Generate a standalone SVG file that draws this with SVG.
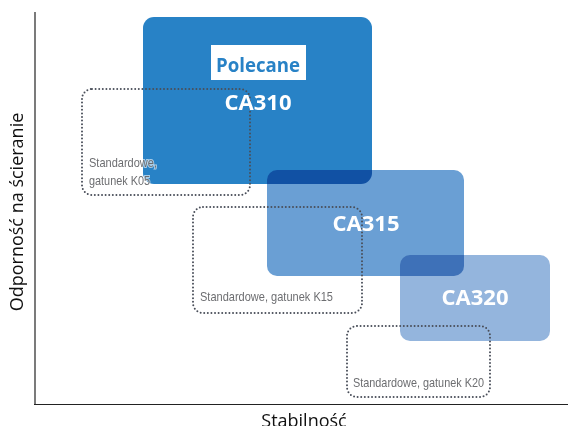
<svg xmlns="http://www.w3.org/2000/svg" width="568" height="426" viewBox="0 0 568 426">
<style>
.blk{mix-blend-mode:multiply}
.dot{fill:none;stroke:#4a4f5a;stroke-width:2;stroke-dasharray:0 3.6;stroke-linecap:round}
.ca{font-family:"Open Sans","Liberation Sans",sans-serif;font-weight:bold;font-size:22px;fill:#ffffff;text-anchor:middle}
.std{font-family:"Liberation Sans",sans-serif;font-size:13px;fill:#6d6e71;stroke:#ffffff;stroke-width:2;stroke-opacity:0.6;paint-order:stroke}
.ax{font-family:"Open Sans","Liberation Sans",sans-serif;font-size:18px;fill:#111111;text-anchor:middle}
</style>
<rect width="568" height="426" fill="#ffffff"/>
<g id="axes">
<line x1="35" y1="12" x2="35" y2="405" stroke="#222" stroke-width="1.2"/>
<line x1="34" y1="404.5" x2="568" y2="404.5" stroke="#222" stroke-width="1.2"/>
<text class="ax" transform="translate(23,212) rotate(-90)">Odporność na ścieranie</text>
<text class="ax" x="304" y="427">Stabilność</text>
</g>
<g id="ca310">
<rect class="blk" x="143" y="17" width="229" height="167" rx="11" fill="#2882c6"/>
</g>
<g id="ca315">
<rect class="blk" x="267" y="170" width="197" height="106" rx="10" fill="#6a9fd4"/>
</g>
<g id="ca320">
<rect class="blk" x="400" y="255" width="150" height="86" rx="10" fill="#94b5dd"/>
</g>
<g id="polecane">
<rect x="211" y="45" width="95" height="35" fill="#ffffff"/>
<text x="216" y="72" font-family="Open Sans, Liberation Sans, sans-serif" font-weight="bold" font-size="20" fill="#2882c6" textLength="84" lengthAdjust="spacingAndGlyphs">Polecane</text>
</g>
<g id="k05">
<rect class="dot" x="82" y="89" width="168" height="106" rx="10"/>
<text class="std" x="89" y="167" textLength="68" lengthAdjust="spacingAndGlyphs">Standardowe,</text>
<text class="std" x="89" y="185" textLength="61" lengthAdjust="spacingAndGlyphs">gatunek K05</text>
</g>
<g id="k15">
<rect class="dot" x="193" y="207" width="169" height="106" rx="10"/>
<text class="std" x="200" y="301" textLength="133" lengthAdjust="spacingAndGlyphs">Standardowe, gatunek K15</text>
</g>
<g id="k20">
<rect class="dot" x="347" y="326" width="143" height="71" rx="10"/>
<text class="std" x="353" y="387" textLength="131" lengthAdjust="spacingAndGlyphs">Standardowe, gatunek K20</text>
</g>
<g id="labels">
<text class="ca" x="258" y="110">CA310</text>
<text class="ca" x="366" y="231">CA315</text>
<text class="ca" x="475" y="305">CA320</text>
</g>
</svg>
